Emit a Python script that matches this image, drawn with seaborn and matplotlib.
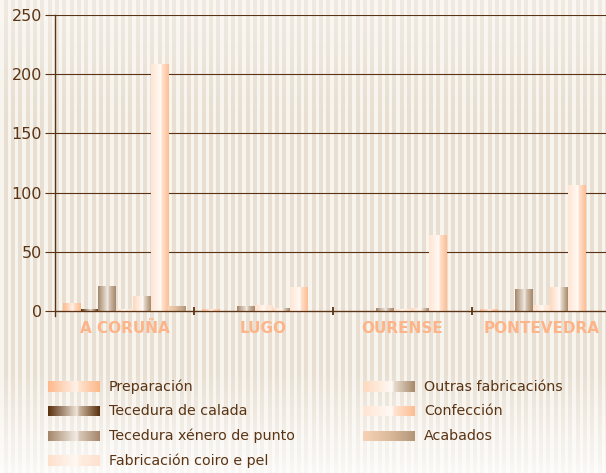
import numpy as np
import pandas as pd
import seaborn as sns
import matplotlib.pyplot as plt
from matplotlib.colors import to_rgb

provincias = ["A CORUÑA", "LUGO", "OURENSE", "PONTEVEDRA"]
actividades = ["Preparación", "Tecedura de calada", "Tecedura xénero de punto",
               "Fabricación coiro e pel", "Outras fabricacións", "Confección", "Acabados"]
preparacion = [6, 1.5, 0, 1]
tecedura_calada = [1.5, 0, 0, 0]
tecedura_xenero = [21, 4, 2, 18]
fabricacion_coiro = [1.5, 5, 1, 5]
outras = [12, 2, 2.5, 20]
confeccion = [208, 20, 64, 106]
acabados = [3.5, 0, 0, 0]
yticks = [0, 50, 100, 150, 200, 250]

valores = [preparacion, tecedura_calada, tecedura_xenero, fabricacion_coiro,
           outras, confeccion, acabados]

# degradados de cada serie (cores, paradas)
S = [0, 0.56, 0.6, 1]
estilos = {
    "Preparación": (["#fdb98c", "#fff3ea", "#ffe2cd", "#fdb88a"], S),
    "Tecedura de calada": (["#5a310e", "#efe5da", "#cdb7a0", "#5a310e"], S),
    "Tecedura xénero de punto": (["#a5866a", "#f3ede6", "#d9c9b8", "#a5866a"], S),
    "Fabricación coiro e pel": (["#fde0cb", "#fff9f4", "#ffeee2", "#fde1cd"], S),
    "Outras fabricacións": (["#fdd9be", "#fffaf6", "#e8dccf", "#a88a6c"], S),
    "Confección": (["#ffe5d2", "#fffaf6", "#ffe4d1", "#fdbd93"], S),
    "Acabados": (["#f8d2b4", "#dcbb9c", "#b39679"], [0, 0.5, 1]),
}

marron = "#5a3414"
laranxa = "#fdb488"


def gradiente(cores, paradas, n=80):
    xs = np.linspace(0, 1, n)
    rgb = np.array([to_rgb(c) for c in cores])
    g = np.stack([np.interp(xs, paradas, rgb[:, k]) for k in range(3)], axis=-1)
    return g[np.newaxis, :, :]


def fondo(w=606, h=473):
    ys = np.arange(h)
    f = np.interp(ys, [0, 120, 370, 473], [0.65, 1.0, 1.0, 0.22])[:, None, None]
    escuro = np.array(to_rgb("#e8dfd2"))
    claro = np.array(to_rgb("#f8f4ee"))
    xs = np.arange(w)
    raia = ((xs % 7.33) < 3.3)[None, :, None]
    base = np.where(raia, claro, escuro)
    return 1 - f * (1 - base)


df = pd.DataFrame({
    "provincia": np.repeat(provincias, len(actividades)),
    "actividade": actividades * len(provincias),
    "valor": np.array(valores).T.ravel(),
})

sns.set_theme(style="white")
plt.rcParams["font.family"] = ["DejaVu Sans"]

fig = plt.figure(figsize=(6.06, 4.73), dpi=100)
bg = fig.add_axes([0, 0, 1, 1], zorder=-10)
bg.imshow(fondo(), aspect="auto", interpolation="nearest")
bg.axis("off")

ax = fig.add_axes([55 / 606, (473 - 316) / 473, 556 / 606, 301 / 473])
ax.set_facecolor("none")
sns.barplot(data=df, x="provincia", y="valor", hue="actividade", order=provincias,
            hue_order=actividades, width=0.88, ax=ax, legend=False, zorder=3)

for nome, cont in zip(actividades, ax.containers):
    g = gradiente(*estilos[nome])
    for p in cont.patches:
        p.set_facecolor("none")
        p.set_edgecolor("none")
        h = p.get_height()
        if h <= 0:
            continue
        x0 = p.get_x()
        ax.imshow(g, extent=[x0, x0 + p.get_width(), 0, h], aspect="auto",
                  interpolation="bilinear", zorder=3)

ax.set_xlim(-0.5, 3.5)
ax.set_ylim(-4.2, 250)
ax.set_yticks(yticks)
ax.yaxis.grid(True, color=marron, lw=0.8, zorder=1)
ax.set_axisbelow(True)
ax.axhline(0, color=marron, lw=0.9, zorder=5)
ax.vlines([0.5, 1.5, 2.5], -3.5, 3.5, color=marron, lw=1.3, zorder=5)

for lado in ["top", "right", "bottom"]:
    ax.spines[lado].set_visible(False)
ax.spines["left"].set_color(marron)
ax.spines["left"].set_linewidth(1.0)

ax.tick_params(axis="y", direction="out", length=7.2, width=0.8, color=marron,
               labelcolor=marron, labelsize=11.5, pad=2, left=True)
ax.tick_params(axis="x", length=0, pad=3.5, labelsize=11, labelcolor=laranxa)
for t in ax.get_xticklabels():
    t.set_fontweight("bold")
ax.set_xlabel("")
ax.set_ylabel("")

# lenda manual con degradados
filas = [386.5, 411, 436, 460.5]
for i, nome in enumerate(actividades):
    col, fila = divmod(i, 4)
    xs = 48 if col == 0 else 363
    yc = filas[fila]
    sw = fig.add_axes([xs / 606, (473 - yc - 5.5) / 473, 52 / 606, 11 / 473])
    sw.imshow(gradiente(*estilos[nome]), aspect="auto", interpolation="bilinear")
    sw.axis("off")
    fig.text((xs + 61) / 606, (473 - yc) / 473, nome, color=marron, fontsize=10.3,
             va="center", ha="left")

fig.savefig("out.png", dpi=100)
